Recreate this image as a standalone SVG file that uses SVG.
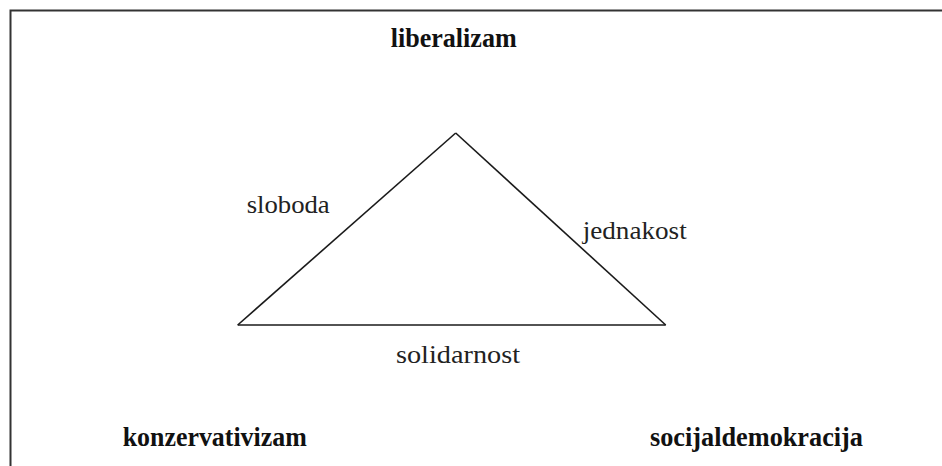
<svg xmlns="http://www.w3.org/2000/svg" width="942" height="466" viewBox="0 0 942 466">
  <style>
    .frame { fill: none; stroke: #333; stroke-width: 2; }
    .edge { fill: none; stroke: #1a1a1a; stroke-width: 1.6; stroke-linejoin: miter; }
    .node { font-family: "Liberation Serif", "DejaVu Serif", serif; font-weight: bold; font-size: 28px; fill: #111; }
    .lbl { font-family: "Liberation Serif", "DejaVu Serif", serif; font-size: 26px; fill: #222; }
  </style>
  <rect x="0" y="0" width="942" height="466" fill="#ffffff"/>
  <path class="frame" d="M 943 10.5 L 10.5 10.5 L 10.5 467"/>
  <g id="connectors">
    <path id="edge-sloboda" class="edge" d="M 455.7 133 L 237.7 325"/>
    <path id="edge-jednakost" class="edge" d="M 455.7 133 L 665.7 325"/>
    <path id="edge-solidarnost" class="edge" d="M 237.7 325 L 665.7 325"/>
    <text class="lbl" x="246.7" y="213" textLength="83" lengthAdjust="spacingAndGlyphs">sloboda</text>
    <text class="lbl" x="582.7" y="239" textLength="104" lengthAdjust="spacingAndGlyphs">jednakost</text>
    <text class="lbl" x="396" y="363" textLength="124" lengthAdjust="spacingAndGlyphs">solidarnost</text>
  </g>
  <g id="liberalizam">
    <text class="node" x="390.7" y="47" textLength="126" lengthAdjust="spacingAndGlyphs">liberalizam</text>
  </g>
  <g id="konzervativizam">
    <text class="node" x="122.7" y="446" textLength="184" lengthAdjust="spacingAndGlyphs">konzervativizam</text>
  </g>
  <g id="socijaldemokracija">
    <text class="node" x="650" y="446" textLength="213" lengthAdjust="spacingAndGlyphs">socijaldemokracija</text>
  </g>
</svg>
